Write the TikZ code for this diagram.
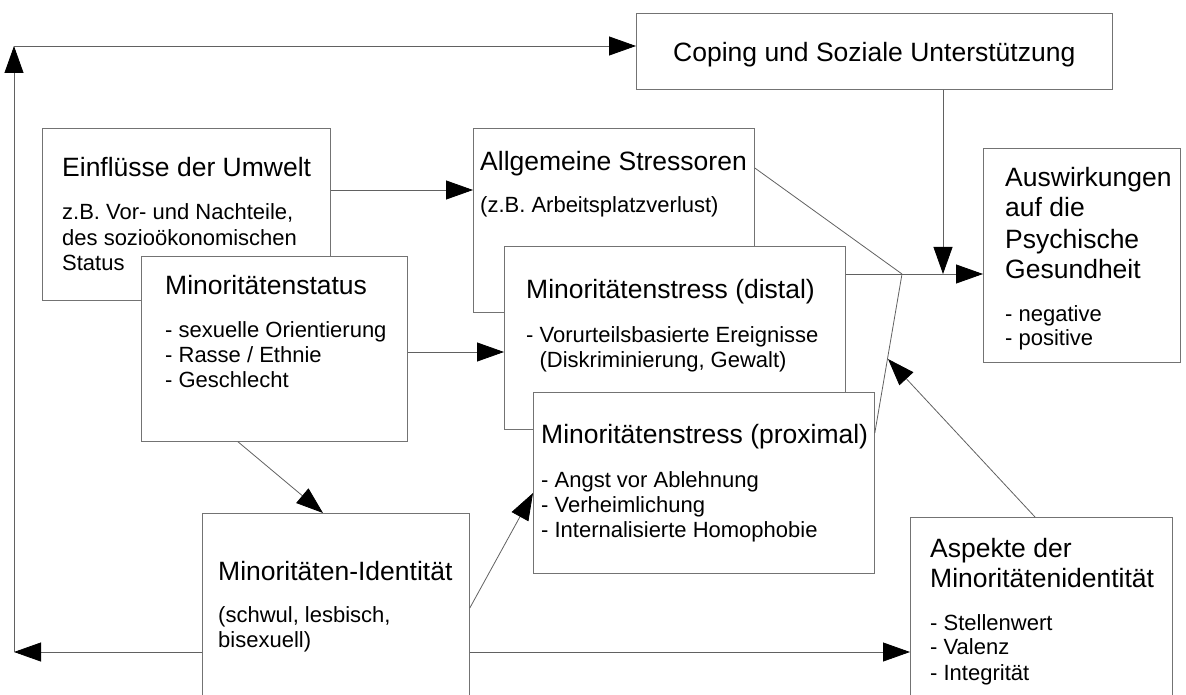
\documentclass[tikz,border=0pt]{standalone}
\usepackage{fontspec}
\setmainfont{Liberation Sans}
\usetikzlibrary{arrows.meta,calc}
\begin{document}
\begin{tikzpicture}[x=1pt,y=-1pt,
  box/.style={draw=black!55, line width=0.8pt, fill=white, inner sep=0pt, anchor=north west},
  conn/.style={draw=black!62, line width=0.8pt},
  arr/.style={conn, -{Triangle[length=27pt,width=19pt,color=black]}},
  ttl/.style={anchor=base west, inner sep=0pt, font=\fontsize{26.5}{30}\selectfont},
  txt/.style={anchor=base west, inner sep=0pt, font=\fontsize{22}{25}\selectfont},
]
\useasboundingbox (0,0) rectangle (1186,695);
\clip (0,0) rectangle (1186,695);

% Coping
\node[box, minimum width=476pt, minimum height=76pt] (coping) at (636,13) {};
\node[ttl] (tcop) at (673,62) {Coping und Soziale Unterstützung};

% Einfluesse der Umwelt
\node[box, minimum width=288pt, minimum height=172pt] (einfl) at (42,128) {};
\node[ttl] (te1) at (62,177) {Einflüsse der Umwelt};
\node[txt] (te2) at (62,220) {z.B. Vor- und Nachteile,};
\node[txt] (te3) at (62,245) {des sozioökonomischen};
\node[txt] (te4) at (62,270) {Status};

% Minoritaetenstatus
\node[box, minimum width=266pt, minimum height=185pt] (mstat) at (141,256) {};
\node[ttl] (tm1) at (165,294) {Minoritätenstatus};
\node[txt] (tm2) at (165,337) {- sexuelle Orientierung};
\node[txt] (tm3) at (165,362) {- Rasse / Ethnie};
\node[txt] (tm4) at (165,387) {- Geschlecht};

% Allgemeine Stressoren
\node[box, minimum width=281pt, minimum height=184pt] (allg) at (473,128) {};
\node[ttl] (ta1) at (480,171) {Allgemeine Stressoren};
\node[txt] (ta2) at (480,213) {(z.B. Arbeitsplatzverlust)};

% Minoritaetenstress distal
\node[box, minimum width=341pt, minimum height=183pt] (dist) at (504,246) {};
\node[ttl] (td1) at (526,298) {Minoritätenstress (distal)};
\node[txt] (td2) at (526,342) {- Vorurteilsbasierte Ereignisse};
\node[txt] (td3) at (526,367) {\phantom{- }(Diskriminierung, Gewalt)};

% Minoritaetenstress proximal
\node[box, minimum width=341pt, minimum height=181pt] (prox) at (533,392) {};
\node[ttl] (tp1) at (541,443) {Minoritätenstress (proximal)};
\node[txt] (tp2) at (541,487) {- Angst vor Ablehnung};
\node[txt] (tp3) at (541,512) {- Verheimlichung};
\node[txt] (tp4) at (541,537) {- Internalisierte Homophobie};

% Auswirkungen
\node[box, minimum width=197pt, minimum height=214pt] (ausw) at (983,148) {};
\node[ttl] (tw1) at (1005,187) {Auswirkungen};
\node[ttl] (tw2) at (1005,217) {auf die};
\node[ttl] (tw3) at (1005,248) {Psychische};
\node[ttl] (tw4) at (1005,278) {Gesundheit};
\node[txt] (tw5) at (1005,321) {- negative};
\node[txt] (tw6) at (1005,345) {- positive};

% Minoritaeten-Identitaet
\node[box, minimum width=267pt, minimum height=207pt] (ident) at (202,513) {};
\node[ttl] (ti1) at (218,580) {Minoritäten-Identität};
\node[txt] (ti2) at (218,622) {(schwul, lesbisch,};
\node[txt] (ti3) at (218,647) {bisexuell)};

% Aspekte
\node[box, minimum width=262pt, minimum height=203pt] (asp) at (910,517) {};
\node[ttl] (ts1) at (930,557) {Aspekte der};
\node[ttl] (ts2) at (930,587) {Minoritätenidentität};
\node[txt] (ts3) at (930,630) {- Stellenwert};
\node[txt] (ts4) at (930,654) {- Valenz};
\node[txt] (ts5) at (930,680) {- Integrität};

% helper coordinates
\coordinate (bl) at (14,652);
\coordinate (tl) at (14,46);
\coordinate (J) at (902,274);
\coordinate (T) at (888,359);
\coordinate (yE) at (0,190);
\coordinate (yM) at (0,352);

% connectors
\draw[arr] (ident.west |- bl) -- (bl);
\draw[arr] (bl) -- (tl);
\draw[arr] (tl) -- (coping.west |- tl);
\draw[arr] (einfl.east |- yE) -- (allg.west |- yE);
\draw[arr] (mstat.east |- yM) -- (dist.west |- yM);
\draw[arr] ($(mstat.south west)+(97,0)$) -- ($(ident.north west)+(121,0)$);
\draw[arr] ($(ident.north east)+(0,95)$) -- ($(prox.north west)+(0,101)$);
\draw[arr] (ident.east |- bl) -- (asp.west |- bl);
\draw[conn] ($(allg.north east)+(0,40)$) -- (J);
\draw[conn] (dist.east |- J) -- (J);
\draw[conn] ($(prox.north east)+(0,41)$) -- (J);
\draw[arr] (J) -- (ausw.west |- J);
\draw[arr] (coping.south -| 943,0) -- (943,274);
\draw[arr] ($(asp.north west)+(125,0)$) -- (T);
\end{tikzpicture}
\end{document}
